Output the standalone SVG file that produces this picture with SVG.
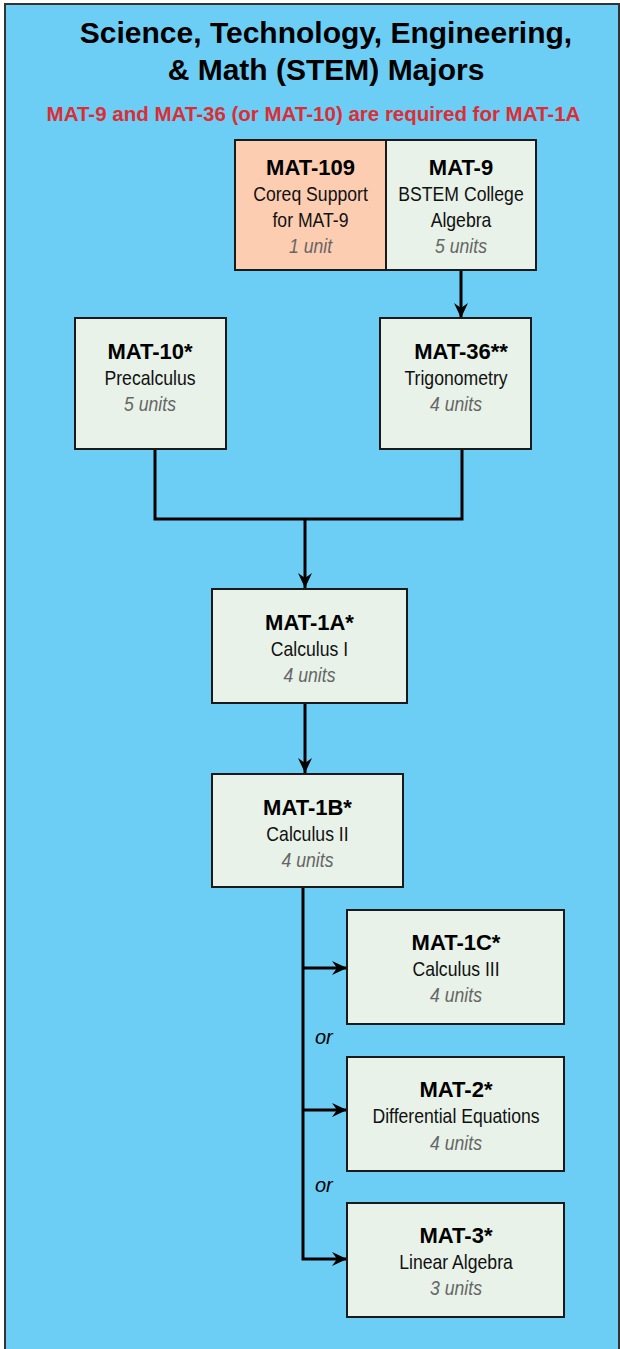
<svg xmlns="http://www.w3.org/2000/svg" width="620" height="1349" viewBox="0 0 620 1349">
<defs>
<style>
.box{fill:#E8F2E8;stroke:#1a1a1a;stroke-width:2}
.coreq{fill:#FDCDB1;stroke:#1a1a1a;stroke-width:2}
.h{font-family:"Liberation Sans",Arial,sans-serif;font-weight:bold;font-size:22px;fill:#000;text-anchor:middle}
.t{font-family:"Liberation Sans",Arial,sans-serif;font-size:20.5px;fill:#111;text-anchor:middle}
.u{font-family:"Liberation Sans",Arial,sans-serif;font-size:20.5px;font-style:italic;fill:#666;text-anchor:middle}
.or{font-family:"Liberation Sans",Arial,sans-serif;font-size:20px;font-style:italic;fill:#000}
.ln{fill:none;stroke:#000;stroke-width:3}
</style>
<marker id="arr" markerUnits="userSpaceOnUse" markerWidth="16" markerHeight="16" viewBox="0 0 16 16" refX="15" refY="8" orient="auto">
<path d="M0,1 L15,8 L0,15 L5,8 Z" fill="#000"/>
</marker>
</defs>
<rect x="5" y="4" width="614" height="1360" fill="#6CCEF5" stroke="#333" stroke-width="2"/>
<g id="title">
<text x="326" y="43" font-family="Liberation Sans,Arial,sans-serif" font-weight="bold" font-size="30" text-anchor="middle">Science, Technology, Engineering,</text>
<text x="326" y="80" font-family="Liberation Sans,Arial,sans-serif" font-weight="bold" font-size="30" text-anchor="middle">&amp; Math (STEM) Majors</text>
<text x="313.5" y="120.5" font-family="Liberation Sans,Arial,sans-serif" font-weight="bold" font-size="20.5" fill="#DC2D35" text-anchor="middle">MAT-9 and MAT-36 (or MAT-10) are required for MAT-1A</text>
</g>
<g id="connectors">
<path class="ln" d="M461,271 V318" marker-end="url(#arr)"/>
<path class="ln" d="M155,449 V519 H462 V449" stroke-width="2.5"/>
<path class="ln" d="M305,519 V588" marker-end="url(#arr)"/>
<path class="ln" d="M305,703 V773" marker-end="url(#arr)"/>
<path class="ln" d="M303,887 V1259 H347" marker-end="url(#arr)"/>
<path class="ln" d="M303,968 H347" marker-end="url(#arr)"/>
<path class="ln" d="M303,1110 H347" marker-end="url(#arr)"/>
<text class="or" x="315" y="1044">or</text>
<text class="or" x="315" y="1192">or</text>
</g>
<g id="mat109">
<rect class="coreq" x="235" y="140" width="151" height="130"/>
<text class="h" x="310.5" y="175">MAT-109</text>
<text class="t" transform="translate(310.5,201) scale(0.86,1)">Coreq Support</text>
<text class="t" transform="translate(310.5,227) scale(0.86,1)">for MAT-9</text>
<text class="u" transform="translate(310.5,253) scale(0.86,1)">1 unit</text>
</g>
<g id="mat9">
<rect class="box" x="386" y="140" width="150" height="130"/>
<text class="h" x="461" y="175">MAT-9</text>
<text class="t" transform="translate(461,201) scale(0.86,1)">BSTEM College</text>
<text class="t" transform="translate(461,227) scale(0.86,1)">Algebra</text>
<text class="u" transform="translate(461,253) scale(0.86,1)">5 units</text>
</g>
<g id="mat10">
<rect class="box" x="75" y="318" width="151" height="131"/>
<text class="h" x="150" y="359">MAT-10*</text>
<text class="t" transform="translate(150,385) scale(0.86,1)">Precalculus</text>
<text class="u" transform="translate(150,411) scale(0.86,1)">5 units</text>
</g>
<g id="mat36">
<rect class="box" x="380" y="318" width="151" height="131"/>
<text class="h" x="461" y="359">MAT-36**</text>
<text class="t" transform="translate(456,385) scale(0.86,1)">Trigonometry</text>
<text class="u" transform="translate(456,411) scale(0.86,1)">4 units</text>
</g>
<g id="mat1a">
<rect class="box" x="212" y="589" width="195" height="114"/>
<text class="h" x="309.5" y="630">MAT-1A*</text>
<text class="t" transform="translate(309.5,656) scale(0.86,1)">Calculus I</text>
<text class="u" transform="translate(309.5,682) scale(0.86,1)">4 units</text>
</g>
<g id="mat1b">
<rect class="box" x="212" y="774" width="191" height="113"/>
<text class="h" x="307.5" y="815">MAT-1B*</text>
<text class="t" transform="translate(307.5,841) scale(0.86,1)">Calculus II</text>
<text class="u" transform="translate(307.5,867) scale(0.86,1)">4 units</text>
</g>
<g id="mat1c">
<rect class="box" x="347" y="910" width="217" height="114"/>
<text class="h" x="456" y="950">MAT-1C*</text>
<text class="t" transform="translate(456,976) scale(0.86,1)">Calculus III</text>
<text class="u" transform="translate(456,1002) scale(0.86,1)">4 units</text>
</g>
<g id="mat2">
<rect class="box" x="347" y="1057" width="217" height="114"/>
<text class="h" x="456" y="1097">MAT-2*</text>
<text class="t" transform="translate(456,1123) scale(0.86,1)">Differential Equations</text>
<text class="u" transform="translate(456,1150) scale(0.86,1)">4 units</text>
</g>
<g id="mat3">
<rect class="box" x="347" y="1203" width="217" height="114"/>
<text class="h" x="456" y="1243">MAT-3*</text>
<text class="t" transform="translate(456,1269) scale(0.86,1)">Linear Algebra</text>
<text class="u" transform="translate(456,1295) scale(0.86,1)">3 units</text>
</g>
</svg>
